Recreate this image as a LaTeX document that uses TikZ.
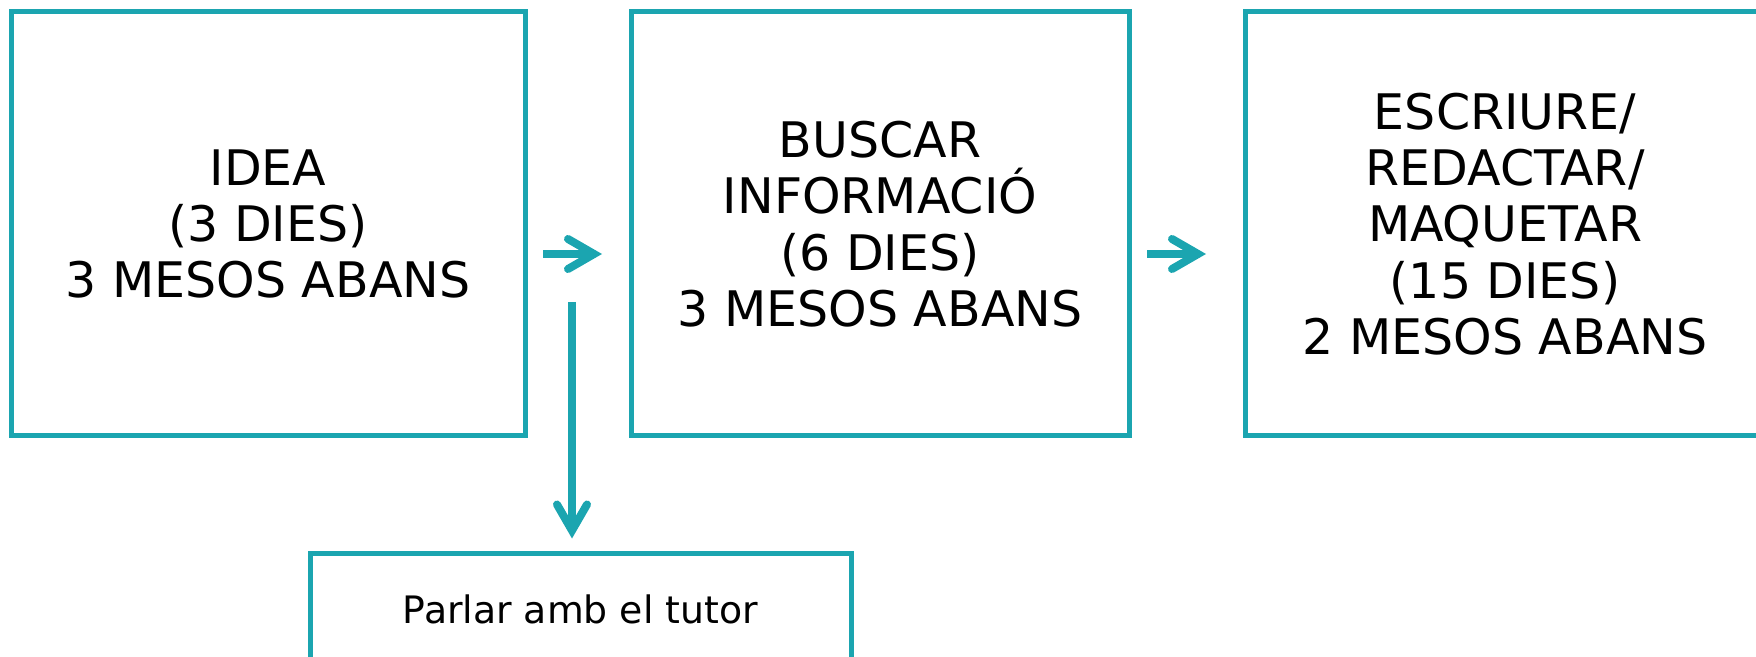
\documentclass[tikz,border=0pt]{standalone}
\usepackage{fontspec}
\setmainfont{DejaVu Sans}
\usetikzlibrary{arrows.meta}
\definecolor{teal1}{RGB}{27,165,176}
\tikzset{
  stagebox/.style={draw=teal1, line width=2.5pt, minimum width=#1, minimum height=212pt, inner sep=0pt, align=center,
     font=\fontsize{24.5pt}{28.2pt}\selectfont},
  notebox/.style={draw=teal1, line width=2.5pt, minimum width=270.5pt, minimum height=56pt, inner sep=0pt, align=center,
     font=\fontsize{18.9pt}{22pt}\selectfont},
  flow/.style={draw=teal1, line width=4pt, -{Straight Barb[length=13pt, width=15pt, line cap=round]}}
}
\begin{document}
\begin{tikzpicture}[x=0.5pt,y=-0.5pt]
\useasboundingbox (0,0) rectangle (1756,657);
\clip (0,0) rectangle (1756,657);
\node[stagebox=257pt] (idea) at (268,224) {IDEA\\(3 DIES)\\3 MESOS ABANS};
\node[stagebox=249pt] (buscar) at (880,224) {BUSCAR\\INFORMACIÓ\\(6 DIES)\\3 MESOS ABANS};
\node[stagebox=260pt] (escriure) at (1505,224) {ESCRIURE/\\REDACTAR/\\MAQUETAR\\(15 DIES)\\2 MESOS ABANS};
\node[notebox] (tutor) at (580.5,609) {Parlar amb el tutor};
\coordinate (a1s) at (543,254);
\coordinate (a1e) at (602,254);
\coordinate (a2s) at (1147,254);
\coordinate (a2e) at (1206,254);
\coordinate (a3s) at (572,302);
\draw[flow] (a1s) -- (a1e);
\draw[flow] (a2s) -- (a2e);
\draw[flow] (a3s) -- ([yshift=6pt]tutor.north -| a3s);
\end{tikzpicture}
\end{document}
